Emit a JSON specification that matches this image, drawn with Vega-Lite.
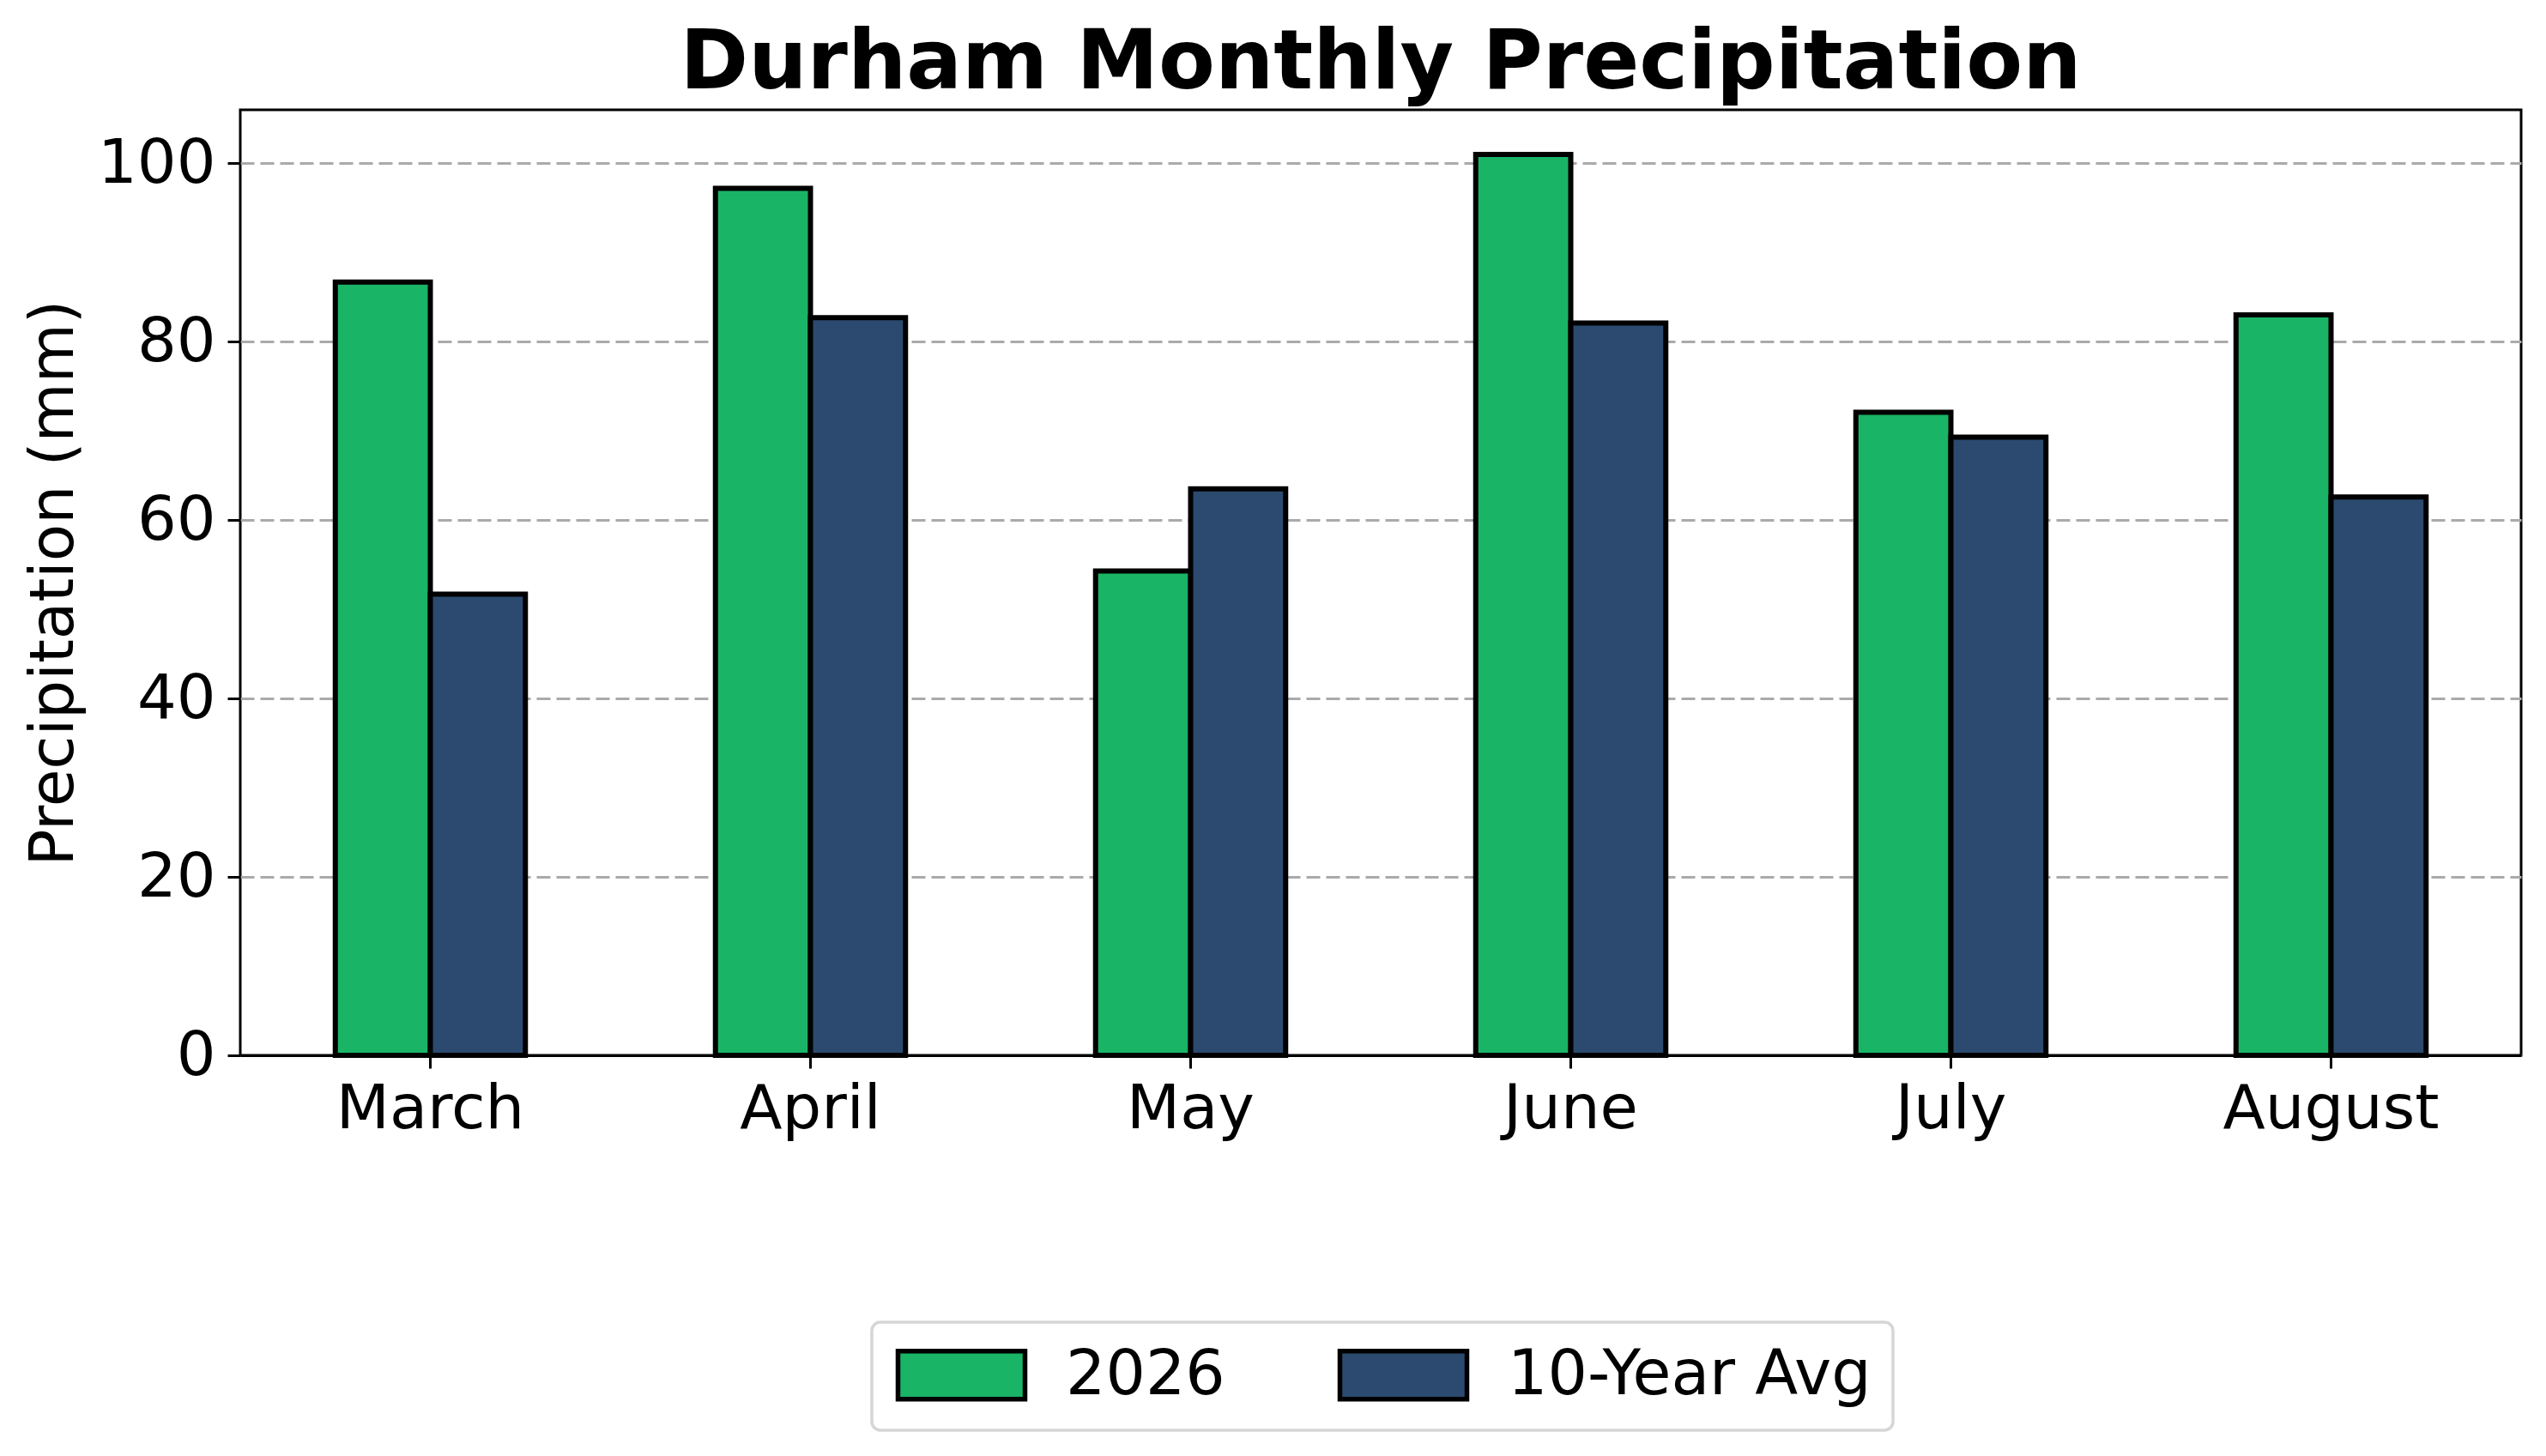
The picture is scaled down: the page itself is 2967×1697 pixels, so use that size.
{
  "$schema": "https://vega.github.io/schema/vega-lite/v6.json",
  "width": 2658,
  "height": 1102,
  "autosize": {"type": "none"},
  "padding": {"left": 280, "top": 128, "right": 29, "bottom": 467},
  "background": "white",
  "title": {
    "text": "Durham Monthly Precipitation",
    "font": "DejaVu Sans",
    "fontSize": 96,
    "fontWeight": "bold",
    "color": "black",
    "anchor": "middle",
    "offset": 5
  },
  "data": {
    "values": [
      {"month": "March", "series": "2026", "precip": 86.7},
      {"month": "March", "series": "10-Year Avg", "precip": 51.7},
      {"month": "April", "series": "2026", "precip": 97.2},
      {"month": "April", "series": "10-Year Avg", "precip": 82.7},
      {"month": "May", "series": "2026", "precip": 54.3},
      {"month": "May", "series": "10-Year Avg", "precip": 63.5},
      {"month": "June", "series": "2026", "precip": 101.0},
      {"month": "June", "series": "10-Year Avg", "precip": 82.1},
      {"month": "July", "series": "2026", "precip": 72.1},
      {"month": "July", "series": "10-Year Avg", "precip": 69.3},
      {"month": "August", "series": "2026", "precip": 83.0},
      {"month": "August", "series": "10-Year Avg", "precip": 62.6}
    ]
  },
  "mark": {"type": "bar", "stroke": "black", "strokeWidth": 6},
  "encoding": {
    "x": {
      "field": "month",
      "type": "nominal",
      "sort": ["March", "April", "May", "June", "July", "August"],
      "scale": {"paddingInner": 0.5, "paddingOuter": 0.25},
      "axis": {
        "title": null,
        "labelAngle": 0,
        "labelLimit": 1000,
        "grid": false,
        "domain": true,
        "domainColor": "black",
        "domainWidth": 3,
        "zindex": 1,
        "ticks": true,
        "tickSize": 15,
        "tickWidth": 3,
        "tickColor": "black",
        "labelFont": "DejaVu Sans",
        "labelFontSize": 72,
        "labelColor": "black",
        "labelPadding": 12
      }
    },
    "xOffset": {
      "field": "series",
      "type": "nominal",
      "sort": ["2026", "10-Year Avg"],
      "scale": {"paddingInner": 0, "paddingOuter": 0}
    },
    "y": {
      "field": "precip",
      "type": "quantitative",
      "scale": {"domain": [0, 106], "nice": false, "zero": true},
      "axis": {
        "title": "Precipitation (mm)",
        "titleFont": "DejaVu Sans",
        "titleFontSize": 71,
        "titleFontWeight": "normal",
        "titleColor": "black",
        "titlePadding": 14,
        "values": [0, 20, 40, 60, 80, 100],
        "domain": false,
        "ticks": true,
        "tickSize": 15,
        "tickWidth": 3,
        "tickColor": "black",
        "labelFont": "DejaVu Sans",
        "labelFontSize": 72,
        "labelColor": "black",
        "labelPadding": 14,
        "grid": true,
        "gridColor": "#aaaaaa",
        "gridWidth": 2.8,
        "gridDash": [16, 7]
      }
    },
    "color": {
      "field": "series",
      "type": "nominal",
      "sort": ["2026", "10-Year Avg"],
      "scale": {"domain": ["2026", "10-Year Avg"], "range": ["#1ab467", "#2c4a6f"]},
      "legend": {
        "title": null,
        "orient": "none",
        "legendX": 736,
        "legendY": 1413,
        "direction": "horizontal",
        "columns": 2
      }
    }
  },
  "config": {
    "view": {"stroke": "black", "strokeWidth": 3},
    "font": "DejaVu Sans",
    "legend": {
      "columnPadding": 122,
      "padding": 25,
      "fillColor": "white",
      "strokeColor": "#d6d6d6",
      "strokeWidth": 3.5,
      "cornerRadius": 10,
      "symbolType": "M-2.643,-1H2.643V1H-2.643Z",
      "symbolSize": 3136,
      "symbolOffset": 43,
      "symbolStrokeColor": "black",
      "symbolStrokeWidth": 5.5,
      "symbolOpacity": 1,
      "labelOffset": 85,
      "labelFont": "DejaVu Sans",
      "labelFontSize": 73,
      "labelColor": "black",
      "labelLimit": 1000
    }
  }
}
